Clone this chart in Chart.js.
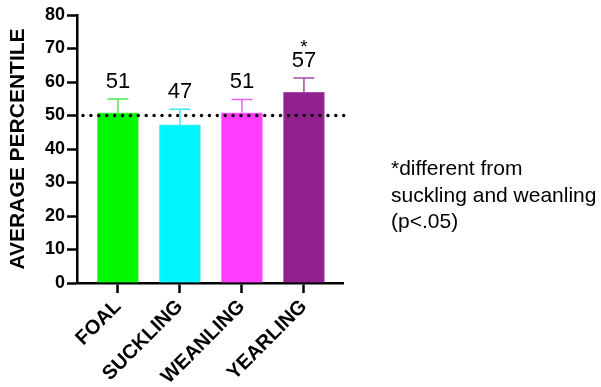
<!DOCTYPE html>
<html>
<head>
<meta charset="utf-8">
<script src="https://cdn.jsdelivr.net/npm/chart.js@4/dist/chart.umd.min.js"></script>
<style>
  html, body { margin: 0; padding: 0; background: #fff; }
  #wrap { position: relative; width: 601px; height: 387px; }
  #note {
    position: absolute; left: 391px; top: 155px;
    font: 21px "Liberation Sans", Arial, sans-serif; line-height: 26.5px; color: #000;
    white-space: nowrap;
  }
</style>
</head>
<body>
<div id="wrap">
  <canvas id="c" width="601" height="387"></canvas>
  <div id="note">*different from<br>suckling and weanling<br>(p&lt;.05)</div>
</div>
<script>
  // 各年齡組平均百分位
  const categories = ["FOAL", "SUCKLING", "WEANLING", "YEARLING"];
  const means = [50.8, 47.2, 50.8, 56.9];
  const errors = [4.1, 4.7, 4.0, 4.3];
  const marks = ["", "", "", "*"];
  const refLine = 50;
  const yTicks = [0, 10, 20, 30, 40, 50, 60, 70, 80];

  const barColors = ["#00f700", "#00f6ff", "#ff3cff", "#91208f"];
  const errColors = ["#4ee84e", "#40e8f0", "#f060f0", "#a64aa4"];
  const FONT = '"Liberation Sans", Arial, sans-serif';

  // 誤差線、數值標籤與參考虛線
  const extras = {
    id: "extras",
    afterDatasetsDraw(chart) {
      const { ctx, chartArea } = chart;
      const y = chart.scales.y;
      const meta = chart.getDatasetMeta(0);

      // 參考線（點狀）
      const ry = y.getPixelForValue(refLine);
      ctx.save();
      ctx.fillStyle = "#000";
      for (let x = chartArea.left + 6; x <= chartArea.right + 8; x += 7.9) {
        ctx.beginPath();
        ctx.arc(x, ry, 1.7, 0, Math.PI * 2);
        ctx.fill();
      }

      meta.data.forEach((bar, i) => {
        const top = y.getPixelForValue(means[i]);
        const cap = y.getPixelForValue(means[i] + errors[i]);
        ctx.strokeStyle = errColors[i];
        ctx.lineWidth = 1.5;
        ctx.beginPath();
        ctx.moveTo(bar.x, top);
        ctx.lineTo(bar.x, cap);
        ctx.moveTo(bar.x - 10.5, cap);
        ctx.lineTo(bar.x + 10.5, cap);
        ctx.stroke();

        ctx.fillStyle = "#000";
        ctx.textAlign = "center";
        ctx.textBaseline = "alphabetic";
        ctx.font = "22px " + FONT;
        const base = cap - 11;
        ctx.fillText(String(Math.round(means[i])), bar.x, base);
        if (marks[i]) {
          ctx.font = "19px " + FONT;
          ctx.fillText(marks[i], bar.x, base - 14);
        }
      });
      ctx.restore();
    },
  };

  new Chart(document.getElementById("c"), {
    type: "bar",
    data: {
      datasets: [{
        data: means.map((v, i) => ({ x: i, y: v })),
        backgroundColor: barColors,
        borderColor: errColors,
        borderWidth: { top: 1, left: 1, right: 1, bottom: 0 },
        barThickness: 41,
      }],
    },
    options: {
      responsive: false,
      animation: false,
      layout: { padding: { left: 0, top: 15, right: 258, bottom: 0 } },
      plugins: { legend: { display: false }, tooltip: { enabled: false } },
      scales: {
        x: {
          type: "linear",
          offset: false,
          min: -0.66,
          max: 3.63,
          afterBuildTicks: (s) => { s.ticks = categories.map((c, i) => ({ value: i })); },
          afterFit: (s) => { s.height = 104; },
          border: { color: "#000", width: 2.5 },
          grid: { offset: false, drawOnChartArea: false, color: "#000", tickLength: 10, tickWidth: 2.5 },
          ticks: {
            color: "#000",
            font: { family: FONT, size: 20, weight: "bold" },
            minRotation: 45,
            maxRotation: 45,
            padding: 2,
            callback: (v) => categories[v] || "",
          },
        },
        y: {
          min: 0,
          max: 80,
          afterBuildTicks: (s) => { s.ticks = yTicks.map((v) => ({ value: v })); },
          afterFit: (s) => { s.width = 77; },
          border: { color: "#000", width: 2.5 },
          grid: { drawOnChartArea: false, color: "#000", tickLength: 10, tickWidth: 2.5 },
          ticks: {
            color: "#000",
            font: { family: FONT, size: 18, weight: "bold" },
            padding: 2,
          },
          title: {
            display: true,
            text: "AVERAGE PERCENTILE",
            color: "#000",
            font: { family: FONT, size: 21, weight: "bold" },
            padding: { top: 6, bottom: 0 },
          },
        },
      },
    },
    plugins: [extras],
  });
</script>
</body>
</html>
